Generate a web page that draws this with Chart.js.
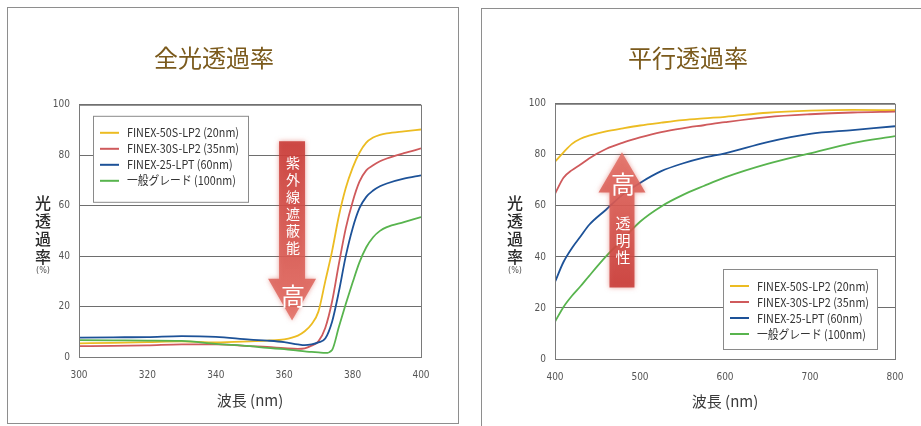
<!DOCTYPE html>
<html>
<head>
<meta charset="utf-8">
<script src="https://cdn.jsdelivr.net/npm/chart.js@4.4.1/dist/chart.umd.min.js"></script>
<style>
  body { margin: 0; background: #fff; width: 921px; height: 426px; overflow: hidden; position: relative; }
  .frame { position: absolute; border: 1px solid #8e8e8e; box-sizing: border-box; }
  canvas { position: absolute; }
</style>
</head>
<body>
<div class="frame" style="left:7px;top:7px;width:452px;height:417px"></div>
<div class="frame" style="left:481px;top:8px;width:460px;height:430px"></div>
<canvas id="totalChart" width="452" height="416" style="left:7px;top:7px"></canvas>
<canvas id="parallelChart" width="452" height="416" style="left:481px;top:8px"></canvas>
<script>
// ---- data ----
const seriesNames = ['FINEX-50S-LP2 (20nm)', 'FINEX-30S-LP2 (35nm)', 'FINEX-25-LPT (60nm)', '一般グレード (100nm)'];
const seriesColors = ['#ecbc22', '#cf5a5c', '#1d5298', '#58b44e'];

// 全光透過率 (300-400nm)
const uvWavelengths = [300, 310, 320, 330, 340, 350, 355, 360, 364, 366, 368, 370, 372, 374, 376, 378, 380, 382, 384, 386, 388, 390, 395, 400];
const total50S = [5.4, 5.6, 5.9, 6.2, 5.8, 6.2, 6.5, 7.0, 8.5, 10.2, 13, 18, 30, 42, 56, 67, 75, 81, 85, 87, 88.1, 88.7, 89.5, 90.2];
const total30S = [4.3, 4.4, 4.6, 5.0, 5.0, 4.3, 4.0, 3.5, 3.2, 3.4, 4.5, 6.2, 11.5, 22, 37, 51, 61.5, 69.5, 74, 76, 77.6, 78.7, 80.8, 82.7];
const total25 = [7.7, 7.8, 7.9, 8.3, 8.0, 6.9, 6.5, 5.9, 5.0, 4.7, 5.0, 5.8, 7.3, 14, 26, 40, 51, 59, 63.5, 66, 67.7, 68.8, 70.7, 72];
const totalGeneral = [6.7, 6.6, 6.5, 6.4, 5.2, 4.3, 3.6, 3.1, 2.5, 2.2, 2.0, 1.8, 1.6, 2.8, 12, 21, 29.5, 37.5, 43.5, 47.5, 50, 51.5, 53.5, 55.5];

// 平行透過率 (400-800nm)
const visWavelengths = [400, 410, 420, 430, 440, 460, 480, 500, 525, 550, 575, 600, 650, 700, 750, 800];
const parallel50S = [77.3, 81, 84.3, 86.3, 87.5, 89.2, 90.4, 91.5, 92.6, 93.6, 94.3, 94.9, 96.5, 97.3, 97.6, 97.5];
const parallel30S = [64.7, 71, 74, 76.2, 78.6, 82.3, 84.8, 86.8, 88.9, 90.4, 91.6, 92.8, 94.8, 95.9, 96.6, 96.9];
const parallel25 = [30.2, 38, 43.5, 48, 52.5, 58.5, 64.5, 69, 73.6, 76.6, 78.9, 80.6, 85, 88.2, 89.7, 91.2];
const parallelGeneral = [14.6, 20.4, 24.8, 28.5, 32.5, 40.2, 47, 53.8, 59.8, 64.2, 67.8, 71.2, 76.5, 80.6, 84.6, 87.3];

const yTicks = [0, 20, 40, 60, 80, 100];

const JP = '"Noto Sans CJK JP", "Noto Sans", sans-serif';
const NARROW = '"Liberation Sans Narrow", "DejaVu Sans Condensed", "Liberation Sans", sans-serif';

function makeDatasets(xs, list) {
  return list.map((vals, i) => ({
    label: seriesNames[i],
    data: xs.map((x, j) => ({ x: x, y: vals[j] })),
    borderColor: seriesColors[i],
    borderWidth: 1.8,
    pointRadius: 0,
    cubicInterpolationMode: 'monotone',
    fill: false
  })).reverse();
}

// plot frame, in-chart legend, y title, arrow annotation
const decorPlugin = {
  id: 'decor',
  afterDatasetsDraw(chart, args, opts) {
    const ctx = chart.ctx;
    const ca = chart.chartArea;
    const xs = chart.scales.x, ys = chart.scales.y;
    ctx.save();

    // frame
    ctx.strokeStyle = '#7a7a7a';
    ctx.lineWidth = 1;
    ctx.strokeRect(ca.left + 0.5, ca.top + 0.5, ca.right - ca.left, ca.bottom - ca.top);

    // arrow
    const a = opts.arrow;
    const cx = xs.getPixelForValue(a.x);
    const yTail = ys.getPixelForValue(a.tail);
    const yBase = ys.getPixelForValue(a.base);
    const yTip = ys.getPixelForValue(a.tip);
    const grad = ctx.createLinearGradient(0, yTail, 0, yTip);
    grad.addColorStop(0, 'rgba(200,58,54,0.88)');
    grad.addColorStop(1, 'rgba(226,110,100,0.85)');
    ctx.fillStyle = grad;
    ctx.shadowColor = 'rgba(215,80,70,0.6)';
    ctx.shadowBlur = 5;
    ctx.beginPath();
    ctx.moveTo(cx - a.band, yTail);
    ctx.lineTo(cx + a.band, yTail);
    ctx.lineTo(cx + a.band, yBase);
    ctx.lineTo(cx + a.head, yBase);
    ctx.lineTo(cx, yTip);
    ctx.lineTo(cx - a.head, yBase);
    ctx.lineTo(cx - a.band, yBase);
    ctx.closePath();
    ctx.fill();
    ctx.shadowBlur = 0;
    ctx.fillStyle = '#fff';
    ctx.textAlign = 'center';
    ctx.textBaseline = 'middle';
    a.texts.forEach(t => {
      ctx.font = t.size + 'px ' + JP;
      const y0 = ys.getPixelForValue(t.at);
      [...t.text].forEach((ch, k) => ctx.fillText(ch, cx + 1, y0 + k * t.step));
    });

    // legend
    const lg = opts.legend;
    const bx = lg.right != null ? ca.right - lg.right - lg.w : ca.left + lg.left;
    const by = lg.bottom != null ? ca.bottom - lg.bottom - lg.h : ca.top + lg.top;
    ctx.fillStyle = '#fff';
    ctx.fillRect(bx, by, lg.w, lg.h);
    ctx.strokeStyle = '#8a8a8a';
    ctx.strokeRect(bx + 0.5, by + 0.5, lg.w, lg.h);
    ctx.font = '12px ' + JP;
    ctx.textAlign = 'left';
    const sx = 112 / ctx.measureText(seriesNames[0]).width;
    seriesNames.forEach((name, i) => {
      const y = by + 17 + i * 16;
      ctx.strokeStyle = seriesColors[i];
      ctx.lineWidth = 2;
      ctx.beginPath();
      ctx.moveTo(bx + 7, y);
      ctx.lineTo(bx + 26, y);
      ctx.stroke();
      ctx.save();
      ctx.translate(bx + 34, y);
      ctx.scale(sx, 1);
      ctx.fillStyle = '#333';
      ctx.fillText(name, 0, 0);
      ctx.restore();
    });

    // vertical y title
    const tx = ca.left - opts.yTitleOffset;
    const ty = ys.getPixelForValue(60) - 3;
    ctx.fillStyle = '#2a2a2a';
    ctx.textAlign = 'center';
    ctx.font = '500 16px ' + JP;
    ['光', '透', '過', '率'].forEach((ch, k) => ctx.fillText(ch, tx, ty + k * 18));
    ctx.font = '9px ' + NARROW;
    ctx.fillStyle = '#555';
    ctx.fillText('(%)', tx, ty + 68);
    ctx.restore();
  }
};

function makeChart(id, title, xs, list, xRange, xStep, axisWidth, axisHeight, titlePad, decor) {
  return new Chart(document.getElementById(id), {
    type: 'line',
    data: { datasets: makeDatasets(xs, list) },
    plugins: [decorPlugin],
    options: {
      responsive: false,
      animation: false,
      layout: { padding: { left: 0, right: 38, top: 0, bottom: 6 } },
      plugins: {
        legend: { display: false },
        tooltip: { enabled: false },
        title: {
          display: true,
          text: title,
          color: '#7b5a1c',
          font: { family: JP, size: 24, weight: 'normal' },
          padding: titlePad
        },
        decor: decor
      },
      scales: {
        x: {
          type: 'linear',
          min: xRange[0],
          max: xRange[1],
          afterFit: s => { s.height = axisHeight; },
          grid: { display: false, drawTicks: false },
          border: { display: false },
          ticks: { stepSize: xStep, padding: 12, color: '#555', font: { family: NARROW, size: 10 } },
          title: {
            display: true,
            text: '波長 (nm)',
            color: '#3a3a3a',
            font: { family: JP, size: 15 },
            padding: { top: 4, bottom: 8 }
          }
        },
        y: {
          min: 0,
          max: 100,
          afterBuildTicks: s => { s.ticks = yTicks.map(v => ({ value: v })); },
          afterFit: s => { s.width = axisWidth; },
          grid: { color: '#6e6e6e', drawTicks: false },
          border: { display: false },
          ticks: { padding: 9, color: '#555', font: { family: NARROW, size: 10 } }
        }
      }
    }
  });
}

makeChart('totalChart', '全光透過率', uvWavelengths,
  [total50S, total30S, total25, totalGeneral], [300, 400], 20, 72, 60,
  { top: 36, bottom: 33 },
  {
    yTitleOffset: 36,
    legend: { left: 14, top: 11, w: 155, h: 86 },
    arrow: {
      x: 362.3, tail: 85.5, base: 31, tip: 14.5, band: 13, head: 24,
      texts: [
        { text: '紫外線遮蔽能', at: 77.2, step: 17, size: 14 },
        { text: '高', at: 24.4, step: 0, size: 24 }
      ]
    }
  });

makeChart('parallelChart', '平行透過率', visWavelengths,
  [parallel50S, parallel30S, parallel25, parallelGeneral], [400, 800], 100, 74, 59,
  { top: 35, bottom: 32 },
  {
    yTitleOffset: 40,
    legend: { right: 18, bottom: 10, w: 154, h: 80 },
    arrow: {
      x: 478.8, tail: 28, base: 65.2, tip: 81, band: 12.5, head: 23.5,
      texts: [
        { text: '高', at: 68.8, step: 0, size: 24 },
        { text: '透明性', at: 53.1, step: 17, size: 15 }
      ]
    }
  });
</script>
</body>
</html>
